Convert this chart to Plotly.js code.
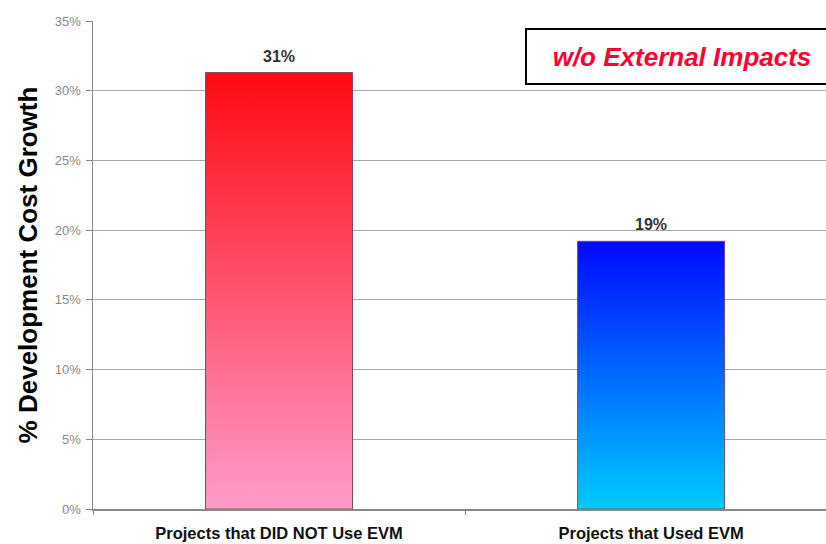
<!DOCTYPE html>
<html>
<head>
<meta charset="utf-8">
<script src="https://cdn.plot.ly/plotly-3.0.1.min.js"></script>
<style>
  html, body { margin: 0; padding: 0; background: #ffffff; overflow: hidden; }
  #chart { width: 826px; height: 544px; }
</style>
</head>
<body>
<div id="chart"></div>
<script>
// Development cost growth, with and without earned value management
const categories = ['Projects that DID NOT Use EVM', 'Projects that Used EVM'];
const costGrowth = [31.3, 19.2];           // percent
const yTickValues = [0, 5, 10, 15, 20, 25, 30, 35];
const yTickLabels = ['0%', '5%', '10%', '15%', '20%', '25%', '30%', '35%'];
const boxLabel = 'w/o External Impacts';
const yTitle = '% Development Cost Growth';

// vertical fills for each bar: [top colour, bottom colour]
const barGradients = [
  ['#ff0a12', '#ff9ccb'],
  ['#0008ff', '#00ccff']
];

const FONT = 'Liberation Sans, Arial, sans-serif';

const trace = {
  type: 'bar',
  x: categories,
  y: costGrowth,
  width: 0.395,
  marker: {
    color: barGradients.map(g => g[0]),
    line: { color: '#7a4a5a', width: 1 }
  },
  hoverinfo: 'skip'
};

const valueLabels = categories.map((c, i) => ({
  x: c, y: costGrowth[i], xref: 'x', yref: 'y',
  text: Math.round(costGrowth[i]) + '%',
  showarrow: false, yanchor: 'bottom', yshift: 6,
  font: { family: FONT, size: 16, color: '#333333', weight: 'bold' }
}));

const layout = {
  width: 826, height: 544,
  margin: { l: 93, r: 0, t: 21, b: 35 },
  paper_bgcolor: '#ffffff',
  plot_bgcolor: '#ffffff',
  showlegend: false,
  xaxis: {
    type: 'category',
    range: [-0.5, 1.47],
    tickson: 'boundaries',
    ticks: 'outside', ticklen: 4, tickcolor: '#888888',
    ticklabelstandoff: 9,
    showline: true, linecolor: '#888888', linewidth: 1.5,
    showgrid: false, zeroline: false,
    tickfont: { family: FONT, size: 16.5, color: '#111111', weight: 'bold' },
    fixedrange: true
  },
  yaxis: {
    range: [0, 35],
    tickvals: yTickValues,
    ticktext: yTickLabels,
    ticks: 'outside', ticklen: 6, tickcolor: '#888888',
    ticklabelstandoff: 2,
    showline: true, linecolor: '#888888', linewidth: 1.5,
    showgrid: true, gridcolor: '#a8a8a8', gridwidth: 1,
    zeroline: false,
    tickfont: { family: FONT, size: 13, color: '#8a8a8a' },
    title: {
      text: yTitle,
      standoff: 10,
      font: { family: FONT, size: 26, color: '#000000', weight: 'bold' }
    },
    fixedrange: true
  },
  annotations: valueLabels.concat([{
    xref: 'paper', yref: 'paper',
    x: (525 - 93) / 733, y: 1 - (28 - 21) / 488,
    xanchor: 'left', yanchor: 'top',
    width: 310, height: 53,
    text: '<i>' + boxLabel + '</i>',
    showarrow: false,
    bgcolor: '#ffffff',
    bordercolor: '#000000', borderwidth: 2, borderpad: 0,
    align: 'center',
    font: { family: FONT, size: 26, color: '#ff0033', weight: 'bold' }
  }])
};

Plotly.newPlot('chart', [trace], layout, { displayModeBar: false, staticPlot: true }).then(gd => {
  // paint each bar with a vertical linear gradient
  const svg = gd.querySelector('.main-svg');
  const ns = 'http://www.w3.org/2000/svg';
  let defs = svg.querySelector('defs');
  if (!defs) { defs = document.createElementNS(ns, 'defs'); svg.insertBefore(defs, svg.firstChild); }
  barGradients.forEach((g, i) => {
    const lg = document.createElementNS(ns, 'linearGradient');
    lg.setAttribute('id', 'barfill' + i);
    lg.setAttribute('x1', '0'); lg.setAttribute('y1', '0');
    lg.setAttribute('x2', '0'); lg.setAttribute('y2', '1');
    [[0, g[0]], [1, g[1]]].forEach(([o, c]) => {
      const st = document.createElementNS(ns, 'stop');
      st.setAttribute('offset', o);
      st.setAttribute('stop-color', c);
      lg.appendChild(st);
    });
    defs.appendChild(lg);
  });
  gd.querySelectorAll('.barlayer .point path').forEach((p, i) => {
    p.style.fill = 'url(#barfill' + i + ')';
  });
});
</script>
</body>
</html>
